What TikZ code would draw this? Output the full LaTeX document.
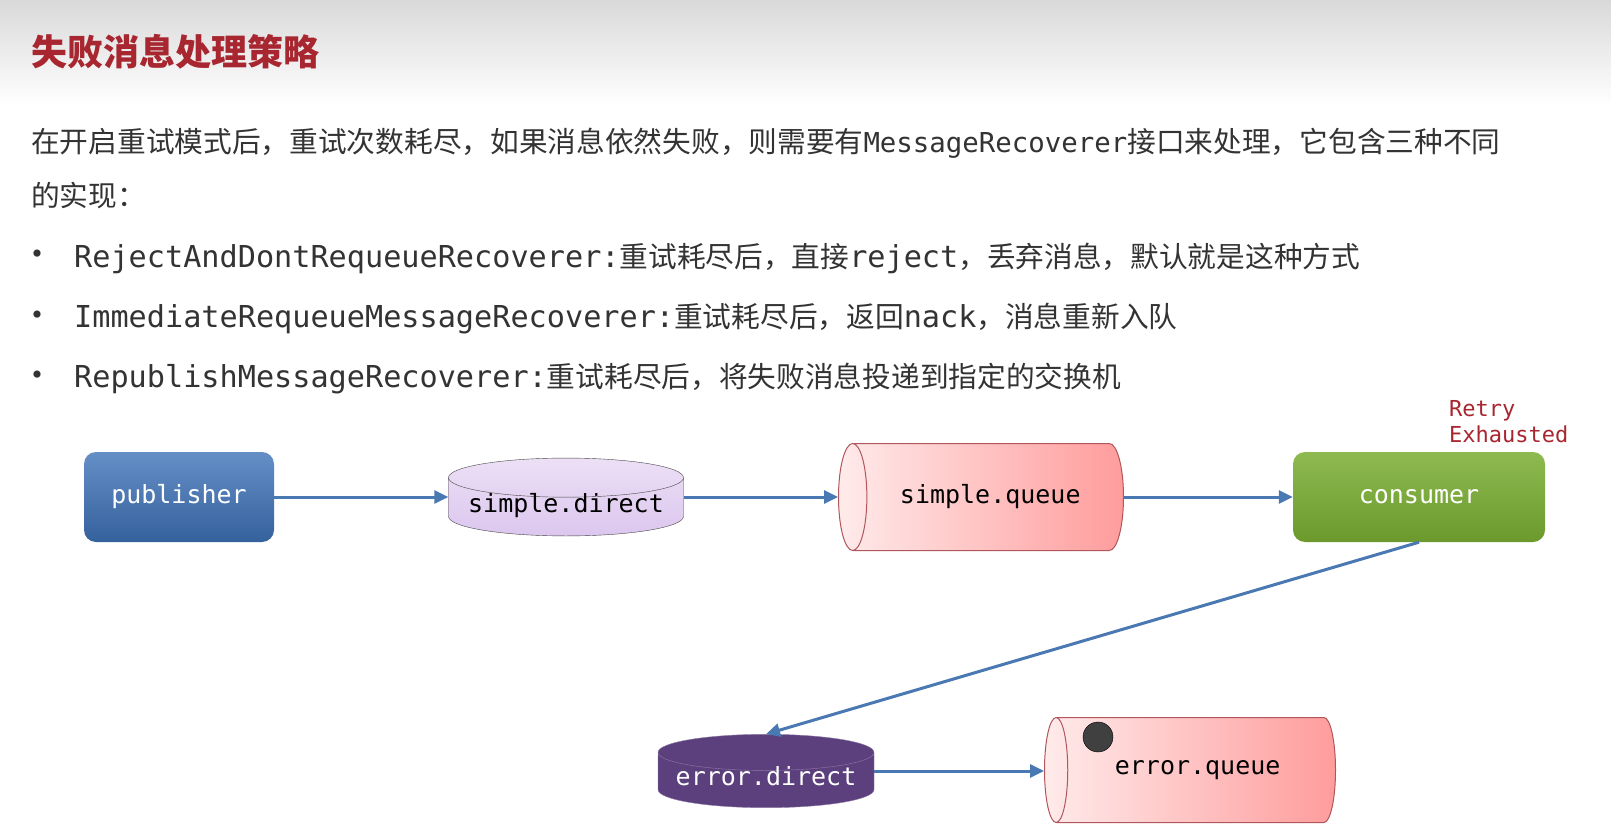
\documentclass[tikz,border=0pt]{standalone}
\usepackage{fontspec}
\usetikzlibrary{positioning}
\usetikzlibrary{shapes.geometric}
\usetikzlibrary{arrows.meta}
\newfontfamily\cjk{Noto Sans CJK SC}
\newfontfamily\mono{DejaVu Sans Mono}
\newcommand\tcode[1]{{\mono\fontsize{27.4}{34}\selectfont #1}}
\newcommand\bcode[1]{{\mono\fontsize{30.2}{34}\selectfont #1}}
\definecolor{titlered}{HTML}{A8262F}
\definecolor{bodygray}{HTML}{333333}
\definecolor{arrowblue}{HTML}{4A78B2}
\definecolor{pubblue}{HTML}{3E72B8}
\definecolor{congreen}{HTML}{7AAE32}
\definecolor{lavender}{HTML}{DCC6EE}
\definecolor{grape}{HTML}{5C3F7D}
\definecolor{qpink}{HTML}{FF9C9C}
\definecolor{qedge}{HTML}{B0565C}

\begin{document}
\begin{tikzpicture}[x=1pt,y=-1pt,
  line/.style={anchor=west,inner sep=0pt,text=bodygray,font=\cjk\fontsize{28.7}{34}\selectfont},
  bullet/.style={line,font=\cjk\fontsize{34}{34}\selectfont},
  box/.style={rounded corners=12pt,minimum width=190pt,minimum height=90pt,text=white,font=\mono\fontsize{25}{30}\selectfont},
  pub/.style={box,top color=pubblue!80!white,bottom color=pubblue!85!black},
  con/.style={box,minimum width=252pt,top color=congreen!85!white,bottom color=congreen!88!black},
  exch/.style={cylinder,shape border rotate=90,aspect=0.2,inner sep=0pt,text height=15pt,text depth=4pt,anchor=shape center,font=\mono\fontsize{25}{30}\selectfont},
  queue/.style={cylinder,shape border rotate=180,aspect=1,inner sep=2pt,anchor=shape center,draw=qedge,line width=1pt,left color=red!8,right color=qpink,font=\mono\fontsize{25}{30}\selectfont},
  conn/.style={draw=arrowblue,line width=3pt,-{Triangle[length=14pt,width=13pt]}}]
\useasboundingbox (0,0) rectangle (1611,826);
\fill[white] (0,0) rectangle (1611,826);
\fill[top color=gray!30,bottom color=white] (0,0) rectangle (1611,105);

% heading and text
\node[line,text=titlered,font=\cjk\bfseries\fontsize{36}{40}\selectfont] (title) at (31,52) {失败消息处理策略};
\node[line] (para1) at (31,143) {在开启重试模式后，重试次数耗尽，如果消息依然失败，则需要有\tcode{MessageRecoverer}接口来处理，它包含三种不同};
\node[line] (para2) at (31,196) {的实现：};
\node[bullet] (dot1) at (20,258) {•};
\node[line] (item1) at (74,258) {\bcode{RejectAndDontRequeueRecoverer:}重试耗尽后，直接\bcode{reject}，丢弃消息，默认就是这种方式};
\node[bullet] (dot2) at (20,319) {•};
\node[line] (item2) at (74,319) {\bcode{ImmediateRequeueMessageRecoverer:}重试耗尽后，返回\bcode{nack}，消息重新入队};
\node[bullet] (dot3) at (20,379) {•};
\node[line] (item3) at (74,379) {\bcode{RepublishMessageRecoverer:}重试耗尽后，将失败消息投递到指定的交换机};

% diagram
\node[pub] (publisher) at (179,497) {publisher};
\node[exch,draw=gray!55!black,top color=lavender!55!white,bottom color=lavender,minimum width=235pt] (sdirect) at (566,497) {simple.direct};
\node[queue,minimum width=107pt,minimum height=285pt] (squeue) at (981,497) {simple.queue};
\node[con] (consumer) at (1419,497) {consumer};
\node[anchor=west,align=left,inner sep=0pt,text=titlered,font=\mono\fontsize{22}{26}\selectfont] (retry) at (1449,422) {Retry\\Exhausted};
\node[exch,draw=grape!70!white,fill=grape,text=white,minimum width=216pt] (edirect) at (766,771) {error.direct};
\node[queue,minimum width=105pt,minimum height=291pt] (equeue) at (1190,770) {error.queue};
\node[circle,draw=black,fill=black!75,minimum size=30pt,inner sep=0pt] (msg) at (1098,737) {};

\draw[conn] (publisher.east) -- (sdirect.west |- publisher.east);
\draw[conn] (sdirect.east |- publisher.east) -- (squeue.west |- publisher.east);
\draw[conn] (squeue.east) -- (consumer.west);
\draw[conn] (consumer.south) -- (edirect.north);
\draw[conn] (edirect.east |- edirect.shape center) -- (equeue.west |- edirect.shape center);
\end{tikzpicture}
\end{document}
